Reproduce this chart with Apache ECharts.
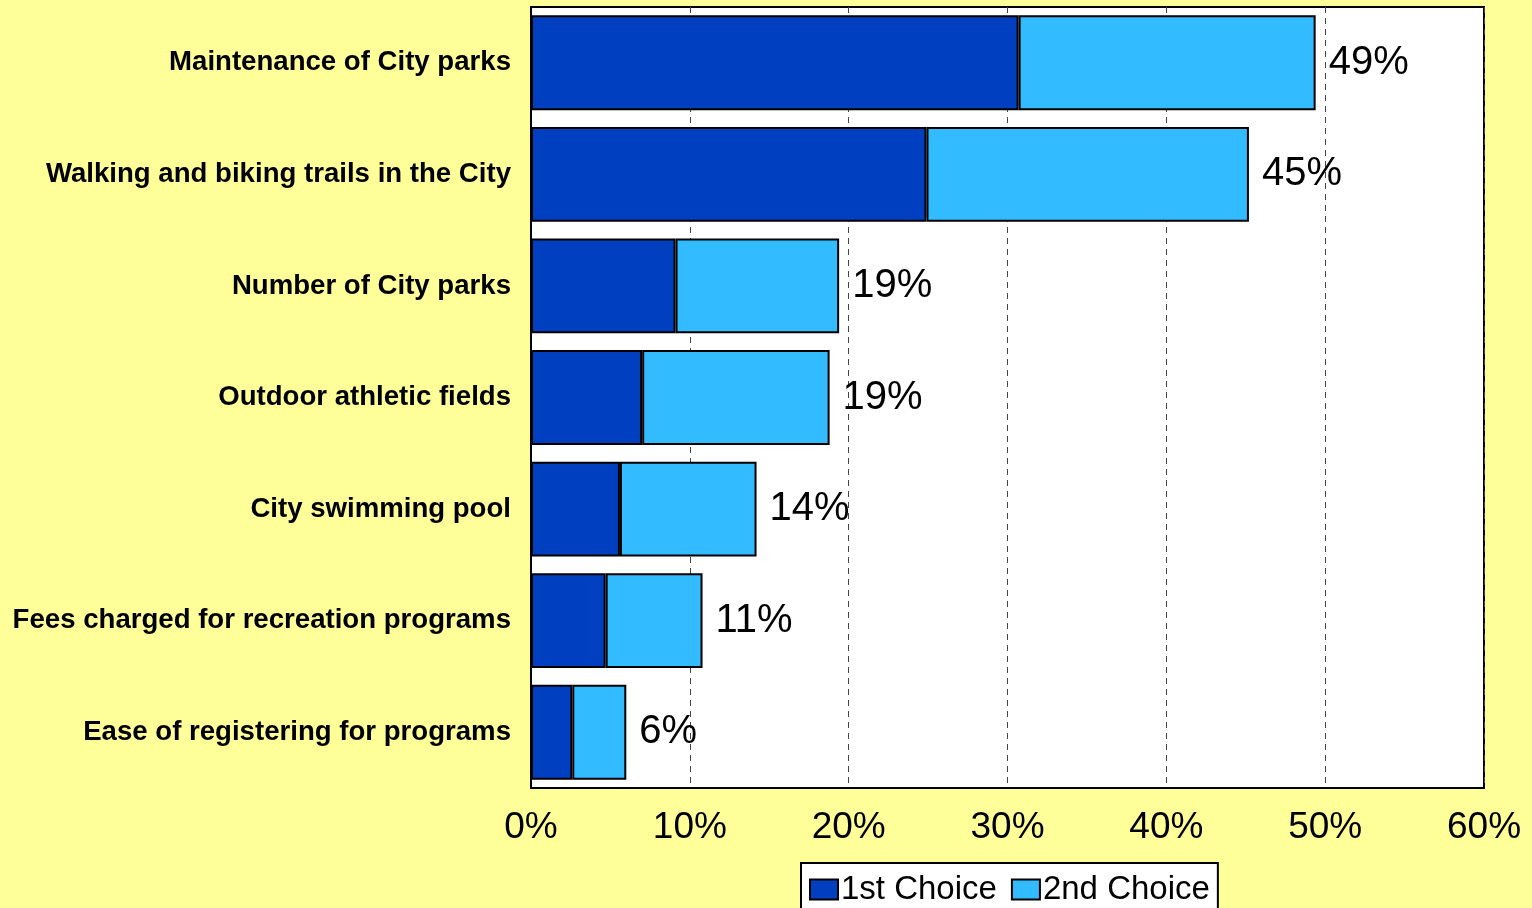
<!DOCTYPE html>
<html>
<head>
<meta charset="utf-8">
<script src="https://cdn.jsdelivr.net/npm/echarts@6/dist/echarts.min.js"></script>
<style>
html,body{margin:0;padding:0;background:#FFFF99;}
#c{width:1532px;height:908px;}
</style>
</head>
<body>
<div id="c"></div>
<script>
const categories = [
  "Maintenance of City parks",
  "Walking and biking trails in the City",
  "Number of City parks",
  "Outdoor athletic fields",
  "City swimming pool",
  "Fees charged for recreation programs",
  "Ease of registering for programs"
];
const firstChoice = [30.7, 24.9, 9.1, 7.0, 5.6, 4.7, 2.6];
const secondChoice = [18.7, 20.3, 10.3, 11.8, 8.6, 6.1, 3.4];
const totalLabels = ["49%", "45%", "19%", "19%", "14%", "11%", "6%"];
const xTicks = [0, 10, 20, 30, 40, 50, 60];

const chart = echarts.init(document.getElementById('c'), null, {renderer: 'canvas'});
const font = '"Liberation Sans", Arial, sans-serif';
chart.setOption({
  backgroundColor: '#FFFF99',
  animation: false,
  grid: {left: 531, top: 7, width: 953, height: 781, show: true, backgroundColor: '#FFFFFF', borderColor: '#000', borderWidth: 2, containLabel: false},
  legend: {
    top: 863, left: 801,
    data: ['1st Choice', '2nd Choice'],
    backgroundColor: '#FFFFFF', borderColor: '#000', borderWidth: 2,
    padding: [10, 8, 10, 8],
    itemWidth: 28, itemHeight: 20, itemGap: 14,
    textStyle: {fontFamily: font, fontSize: 33, color: '#000', padding: [0, 0, 0, -2]},
    icon: 'rect',
    itemStyle: {borderColor: '#000', borderWidth: 2}
  },
  xAxis: {
    type: 'value', min: xTicks[0], max: xTicks[xTicks.length - 1], interval: 10,
    axisLine: {show: true, lineStyle: {color: '#000', width: 2}},
    axisTick: {show: false},
    splitLine: {show: true, lineStyle: {color: '#444', type: [6, 5], width: 1}},
    axisLabel: {fontFamily: font, fontSize: 37, color: '#000', margin: 21, formatter: v => v + '%'}
  },
  yAxis: {
    type: 'category', data: categories, inverse: true,
    axisLine: {show: true, lineStyle: {color: '#000', width: 2}},
    axisTick: {show: false},
    axisLabel: {fontFamily: font, fontSize: 27.6, fontWeight: 'bold', color: '#000', margin: 20, padding: [3, 0, 0, 0]}
  },
  series: [
    {
      name: '1st Choice', type: 'bar', stack: 's', data: firstChoice, barWidth: '85%',
      itemStyle: {color: '#0040C0', borderColor: '#000', borderWidth: 2}
    },
    {
      name: '2nd Choice', type: 'bar', stack: 's', data: secondChoice, barWidth: '85%',
      itemStyle: {color: '#33BBFF', borderColor: '#000', borderWidth: 2},
      label: {show: true, position: 'right', distance: 13, fontFamily: font, fontSize: 40, color: '#000',
        padding: [4, 0, 0, 0],
        formatter: p => totalLabels[p.dataIndex]}
    }
  ]
});
</script>
</body>
</html>
